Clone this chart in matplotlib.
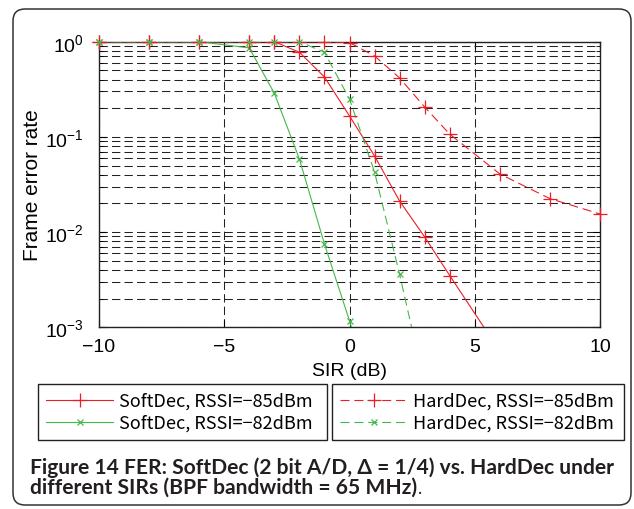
import matplotlib
matplotlib.use("Agg")
import matplotlib.pyplot as plt
from matplotlib.lines import Line2D
from matplotlib.patches import FancyBboxPatch
from matplotlib.transforms import IdentityTransform

# ---- data ----
sir_soft85 = [-10, -8, -6, -4, -3, -2, -1, 0, 1, 2, 3, 4, 6]
fer_soft85 = [1, 1, 1, 1, 1, 0.774, 0.426, 0.166, 0.063, 0.0212, 0.0089, 0.0035, 5.6e-4]

sir_hard85 = [-10, -8, -6, -4, -3, -2, -1, 0, 1, 2, 3, 4, 6, 8, 10]
fer_hard85 = [1, 1, 1, 1, 1, 1, 1, 0.98, 0.708, 0.416, 0.206, 0.107, 0.0408, 0.0225, 0.0155]

sir_soft82 = [-10, -8, -6, -4, -3, -2, -1, 0, 1]
fer_soft82 = [1, 1, 1, 0.86, 0.287, 0.0586, 0.0075, 0.00117, 1.5e-4]

sir_hard82 = [-10, -8, -6, -4, -3, -2, -1, 0, 1, 2, 3]
fer_hard82 = [1, 1, 1, 1, 1, 1, 0.774, 0.25, 0.0427, 0.0036, 2.5e-4]

labels = ["SoftDec, RSSI=\u221285dBm", "SoftDec, RSSI=\u221282dBm",
          "HardDec, RSSI=\u221285dBm", "HardDec, RSSI=\u221282dBm"]
xticks = [-10, -5, 0, 5, 10]
yticks = [1e-3, 1e-2, 1e-1, 1e0]
ytick_labels = [r"$10^{-3}$", r"$10^{-2}$", r"$10^{-1}$", r"$10^{0}$"]
caption1 = "Figure 14 FER: SoftDec (2 bit A/D, \u0394 = 1/4) vs. HardDec under"
caption2 = "different SIRs (BPF bandwidth = 65 MHz)"

RED = "#ee1c25"
GREEN = "#45b84a"

plt.rcParams["lines.scale_dashes"] = False
plt.rcParams["font.family"] = ["Liberation Sans", "DejaVu Sans"]
plt.rcParams["mathtext.fontset"] = "custom"
plt.rcParams["mathtext.rm"] = "Liberation Sans"
plt.rcParams["mathtext.it"] = "Liberation Sans"

W, H = 634, 510
fig = plt.figure(figsize=(W / 100, H / 100), dpi=100)

# border
fig.patches.append(FancyBboxPatch((13, 4), 618, 496, boxstyle="round,pad=0,rounding_size=12",
                                  transform=IdentityTransform(), fill=False,
                                  edgecolor="#333333", linewidth=1.1))

ax = fig.add_axes([99 / W, 1 - 328.3 / H, 501 / W, (328.3 - 42.7) / H])
YMIN, YMAX = 1e-3, 1
dash = (0, (6.5, 3.5))
series = [
    (sir_soft85, fer_soft85, RED, "-", "+", 10.5),
    (sir_soft82, fer_soft82, GREEN, "-", "x", 5),
    (sir_hard85, fer_hard85, RED, dash, "+", 10.5),
    (sir_hard82, fer_hard82, GREEN, dash, "x", 5),
]
for xs, ys, c, ls, m, ms in series:
    ax.plot(xs, ys, color=c, ls=ls, lw=0.8, zorder=3)
    vis = [(x, y) for x, y in zip(xs, ys) if YMIN <= y <= YMAX]
    ax.plot([p[0] for p in vis], [p[1] for p in vis], ls="none", marker=m, ms=ms,
            mew=0.9, color=c, zorder=4, clip_on=False)

ax.set_yscale("log")
ax.set_xlim(-10, 10)
ax.set_ylim(YMIN, YMAX)
ax.set_xticks(xticks)
ax.set_yticks(yticks)
ax.set_yticklabels(ytick_labels)
ax.yaxis.set_minor_locator(matplotlib.ticker.LogLocator(base=10, subs=range(2, 10)))
ax.yaxis.set_minor_formatter(matplotlib.ticker.NullFormatter())
gdash = (0, (6.0, 3.0))
ax.grid(True, which="major", axis="both", color="#222222", lw=0.75, ls=gdash)
ax.grid(True, which="minor", axis="y", color="#222222", lw=0.75, ls=gdash)
ax.set_axisbelow(True)
ax.tick_params(which="both", direction="in", top=True, right=True, labelsize=14, pad=8)
ax.tick_params(axis="y", pad=11)
ax.tick_params(which="major", length=5)
ax.tick_params(which="minor", length=3)
for s in ax.spines.values():
    s.set_linewidth(1.0)
    s.set_color("#222222")
ax.set_xlabel("SIR (dB)", fontsize=14, labelpad=5)
ax.set_ylabel("Frame error rate", fontsize=15, labelpad=2)

# legends
lfont = {"family": ["Noto Sans CJK JP", "DejaVu Sans"], "size": 13}
h1 = [Line2D([], [], color=RED, lw=0.8, marker="+", ms=10.5, mew=0.9),
      Line2D([], [], color=GREEN, lw=0.8, marker="x", ms=5, mew=0.9)]
h2 = [Line2D([], [], color=RED, lw=0.8, ls=dash, marker="+", ms=10.5, mew=0.9),
      Line2D([], [], color=GREEN, lw=0.8, ls=dash, marker="x", ms=5, mew=0.9)]
common = dict(loc="upper left", mode="expand", fancybox=False, edgecolor="#222222",
              framealpha=1, borderaxespad=0, handlelength=3.7, handletextpad=0.35,
              labelspacing=0.22, borderpad=0.45, prop=lfont, markerscale=1)
leg1 = fig.legend(h1, labels[:2], bbox_to_anchor=(38 / W, 1 - 385 / H, 289 / W, 0.0), **common)
leg2 = fig.legend(h2, labels[2:], bbox_to_anchor=(332 / W, 1 - 385 / H, 292 / W, 0.0), **common)
for lg in (leg1, leg2):
    lg.get_frame().set_linewidth(1.0)

# caption
cap_family = ["Lato", "Liberation Sans", "DejaVu Sans"]
t1 = fig.text(30 / W, 1 - 474 / H, caption1, family=cap_family, weight="bold",
              fontsize=14, color="#231f20", va="baseline", ha="left")
fig.canvas.draw()
r = fig.canvas.get_renderer()
w = t1.get_window_extent(r).width
fs = 14 * 588 / w
t1.set_fontsize(fs)
t2 = fig.text(30 / W, 1 - 494 / H, caption2, family=cap_family, weight="bold",
              fontsize=fs, color="#231f20", va="baseline", ha="left")
fig.canvas.draw()
e2 = t2.get_window_extent(r)
fig.text(e2.x1 / W + 0.001, 1 - 494 / H, ".", family=cap_family, fontsize=fs * 0.85,
         color="#231f20", va="baseline", ha="left")

fig.savefig("out.png", dpi=100)
